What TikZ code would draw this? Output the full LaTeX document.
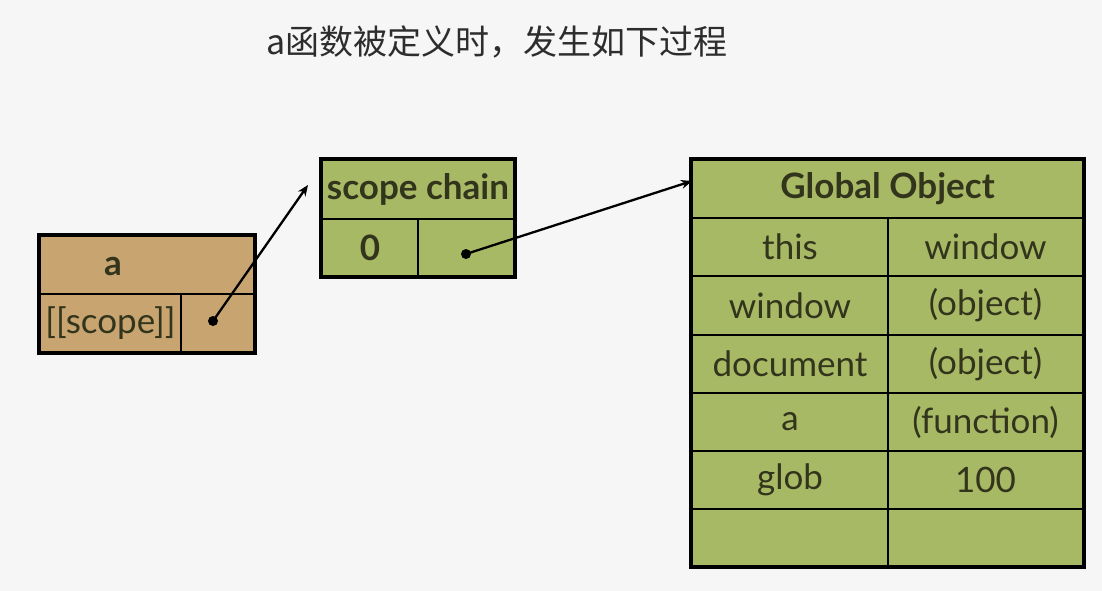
\documentclass[tikz,border=0pt]{standalone}
\usepackage{fontspec}
\setmainfont{Lato}
\newfontfamily\cjk{Noto Sans CJK SC}
\usetikzlibrary{arrows.meta}
\definecolor{tanfill}{RGB}{200,165,112}
\definecolor{olivefill}{RGB}{168,185,102}
\definecolor{ink}{RGB}{50,52,28}
\definecolor{bgc}{RGB}{246,246,246}
\definecolor{titleink}{RGB}{45,45,45}
\begin{document}
\begin{tikzpicture}[x=1pt,y=-1pt,
  cellbox/.style={draw=black, line width=2pt, inner sep=0pt, text=ink, font=\fontsize{35}{40}\selectfont},
  headtxt/.style={font=\fontsize{35}{40}\selectfont\bfseries},
  outerbox/.style={draw=black, line width=4.5pt},
  ptr/.style={circle, fill=black, inner sep=0pt, minimum size=10pt},
  link/.style={line width=2.3pt, -{Stealth[length=11pt,width=9pt]}}
]
\fill[bgc] (0,0) rectangle (1102,591);
\useasboundingbox (0,0) rectangle (1102,591);

% title
\node[text=titleink, font=\cjk\fontsize{34}{38}\selectfont] (title) at (497,42) {a函数被定义时，发生如下过程};

% box a
\node[cellbox, fill=tanfill, minimum width=214, minimum height=58] (ahead) at (147,265) {};
\node[text=ink, headtxt] (atext) at (113,266) {a};
\node[cellbox, fill=tanfill, minimum width=141, minimum height=58] (ascope) at (110.5,323) {[[scope]]};
\node[cellbox, fill=tanfill, minimum width=73, minimum height=58] (aval) at (217.5,323) {};
\draw[outerbox] (ahead.north west) rectangle (aval.south east);

% scope chain
\node[cellbox, fill=olivefill, minimum width=192, minimum height=59, headtxt] (schead) at (418,189.5) {scope chain};
\node[cellbox, fill=olivefill, minimum width=96, minimum height=57, headtxt] (sckey) at (370,247.5) {0};
\node[cellbox, fill=olivefill, minimum width=96, minimum height=57] (scval) at (466,247.5) {};
\draw[outerbox] (schead.north west) rectangle (scval.south east);

% global object
\node[cellbox, fill=olivefill, minimum width=391, minimum height=58, headtxt] (gohead) at (887.5,189) {Global Object};
\node[cellbox, fill=olivefill, minimum width=196, minimum height=58] (g1l) at (790,247) {this};
\node[cellbox, fill=olivefill, minimum width=195, minimum height=58] (g1r) at (985.5,247) {window};
\node[cellbox, fill=olivefill, minimum width=196, minimum height=59] (g2l) at (790,305.5) {window};
\node[cellbox, fill=olivefill, minimum width=195, minimum height=59] (g2r) at (985.5,305.5) {(object)};
\node[cellbox, fill=olivefill, minimum width=196, minimum height=58] (g3l) at (790,364) {document};
\node[cellbox, fill=olivefill, minimum width=195, minimum height=58] (g3r) at (985.5,364) {(object)};
\node[cellbox, fill=olivefill, minimum width=196, minimum height=58] (g4l) at (790,422) {a};
\node[cellbox, fill=olivefill, minimum width=195, minimum height=58] (g4r) at (985.5,422) {(function)};
\node[cellbox, fill=olivefill, minimum width=196, minimum height=58] (g5l) at (790,480) {glob};
\node[cellbox, fill=olivefill, minimum width=195, minimum height=58] (g5r) at (985.5,480) {100};
\node[cellbox, fill=olivefill, minimum width=196, minimum height=57] (g6l) at (790,537.5) {};
\node[cellbox, fill=olivefill, minimum width=195, minimum height=57] (g6r) at (985.5,537.5) {};
\draw[outerbox] (gohead.north west) rectangle (g6r.south east);

% pointers
\node[ptr] (d1) at (213,321) {};
\node[ptr] (d2) at (466,254) {};
\coordinate (t1) at (308,185);
\coordinate (t2) at (692,181);
\draw[link] (d1.center) -- (t1);
\draw[link] (d2.center) -- (t2);
\end{tikzpicture}
\end{document}
